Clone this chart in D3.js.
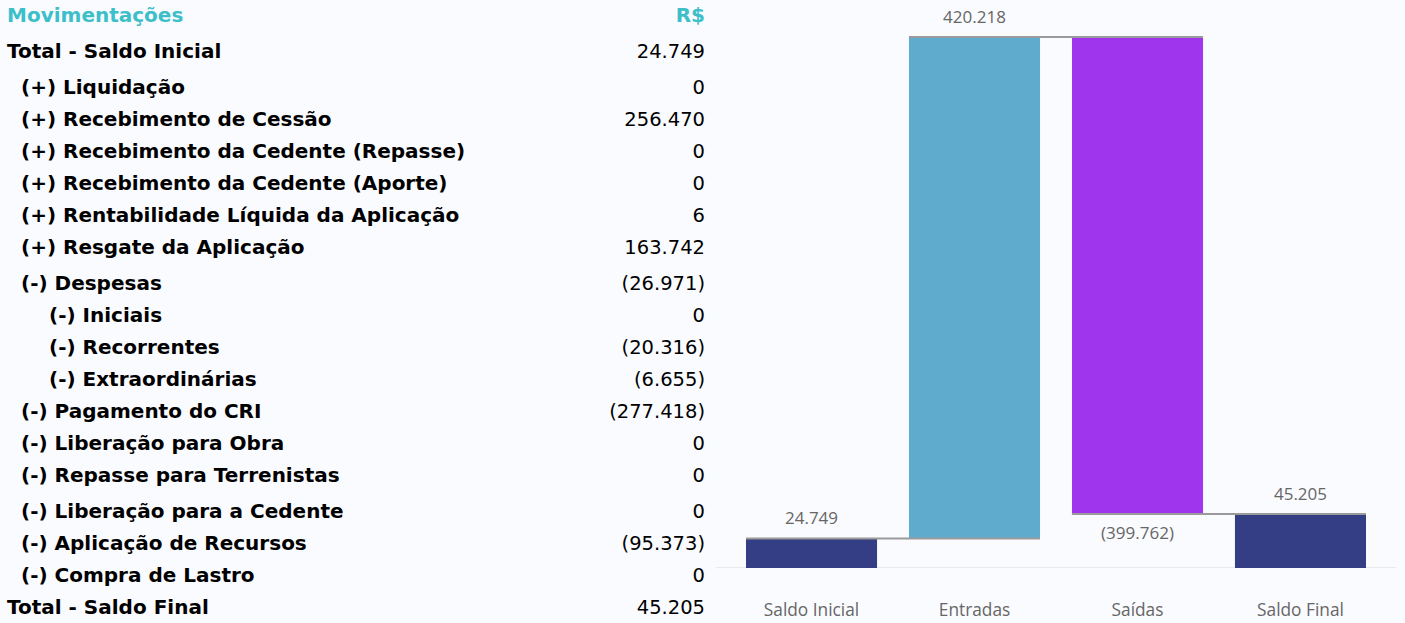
<!DOCTYPE html>
<html lang="pt">
<head>
<meta charset="UTF-8" />
<script src="https://d3js.org/d3.v7.min.js"></script>
<style>
  body { margin:0; background:#fafbfe; }
  svg { display:block; }
</style>
</head>
<body>
<svg width="1405" height="623"></svg>
<script>
// ---- table data ----
var rowLabels = [
  "Total - Saldo Inicial",
  "(+) Liquidação",
  "(+) Recebimento de Cessão",
  "(+) Recebimento da Cedente (Repasse)",
  "(+) Recebimento da Cedente (Aporte)",
  "(+) Rentabilidade Líquida da Aplicação",
  "(+) Resgate da Aplicação",
  "(-) Despesas",
  "(-) Iniciais",
  "(-) Recorrentes",
  "(-) Extraordinárias",
  "(-) Pagamento do CRI",
  "(-) Liberação para Obra",
  "(-) Repasse para Terrenistas",
  "(-) Liberação para a Cedente",
  "(-) Aplicação de Recursos",
  "(-) Compra de Lastro",
  "Total - Saldo Final"
];
var rowValues = [24749, 0, 256470, 0, 0, 6, 163742, -26971, 0, -20316, -6655,
                 -277418, 0, 0, 0, -95373, 0, 45205];
var rowLevels = [0, 1, 1, 1, 1, 1, 1, 1, 2, 2, 2, 1, 1, 1, 1, 1, 1, 0];

// ---- chart data ----
var categories = ["Saldo Inicial", "Entradas", "Saídas", "Saldo Final"];
var stepValues = [24749, 420218, -399762, 45205];
var stepKinds = ["total", "up", "down", "total"];

// layout
var rowGaps = [36, 36, 32, 32, 32, 32, 32, 36, 32, 32, 32, 32, 32, 32, 36, 32, 32, 32];
var colors = { total: "#343e84", up: "#5eabcd", down: "#a035ee" };

var fmt = function(v) {
  var s = d3.format(",")(Math.abs(v)).replace(/,/g, ".");
  return v < 0 ? "(" + s + ")" : s;
};

var svg = d3.select("svg");

//////////////// table
var headerY = 15;
svg.append("text").attr("x", 7).attr("y", headerY).attr("dy", "0.35em")
  .attr("font-family", "DejaVu Sans").attr("font-weight", "bold")
  .attr("font-size", 20).attr("fill", "#3dbfca").text("Movimentações");
svg.append("text").attr("x", 705).attr("y", headerY).attr("dy", "0.35em")
  .attr("text-anchor", "end")
  .attr("font-family", "DejaVu Sans").attr("font-weight", "bold")
  .attr("font-size", 20).attr("fill", "#3dbfca").text("R$");

var rowY = [];
var acc = headerY;
rowGaps.forEach(function(g) { acc += g; rowY.push(acc); });

var indent = [7, 21, 49];
var rows = svg.append("g").selectAll("g")
  .data(rowLabels)
  .enter().append("g");

rows.append("text")
  .attr("x", function(d, i) { return indent[rowLevels[i]]; })
  .attr("y", function(d, i) { return rowY[i]; })
  .attr("dy", "0.35em")
  .attr("font-family", "DejaVu Sans").attr("font-weight", "bold")
  .attr("font-size", 20).attr("fill", "#000")
  .text(function(d) { return d; });

rows.append("text")
  .attr("x", 705)
  .attr("y", function(d, i) { return rowY[i]; })
  .attr("dy", "0.35em")
  .attr("text-anchor", "end")
  .attr("font-family", "DejaVu Sans")
  .attr("font-size", 19.5).attr("fill", "#000")
  .text(function(d, i) { return fmt(rowValues[i]); });

//////////////// waterfall
var bars = [];
var running = 0;
stepValues.forEach(function(v, i) {
  var start, end;
  if (stepKinds[i] == "total") { start = 0; end = v; running = v; }
  else { start = running; end = running + v; running = end; }
  bars.push({ cat: categories[i], v: v, kind: stepKinds[i], start: start, end: end });
});

var x = d3.scaleBand().domain(categories)
  .range([716, 1396]).paddingInner(0.196).paddingOuter(0.184);
var y = d3.scaleLinear()
  .domain([0, d3.max(bars, function(d) { return Math.max(d.start, d.end); })])
  .range([568, 37]);

svg.append("line").attr("x1", 716).attr("x2", 1396)
  .attr("y1", y(0) - 0.5).attr("y2", y(0) - 0.5)
  .attr("stroke", "#e9eaee").attr("stroke-width", 1);

svg.append("g").selectAll("rect")
  .data(bars)
  .enter().append("rect")
  .attr("x", function(d) { return x(d.cat); })
  .attr("y", function(d) { return y(Math.max(d.start, d.end)); })
  .attr("width", x.bandwidth())
  .attr("height", function(d) { return Math.abs(y(d.start) - y(d.end)); })
  .attr("fill", function(d) { return colors[d.kind]; });

// connectors
svg.append("g").selectAll("line")
  .data(bars.slice(0, bars.length - 1))
  .enter().append("line")
  .attr("x1", function(d) { return x(d.cat); })
  .attr("x2", function(d, i) { return x(bars[i + 1].cat) + x.bandwidth(); })
  .attr("y1", function(d) { return y(d.end); })
  .attr("y2", function(d) { return y(d.end); })
  .attr("stroke", "#9a9a9a").attr("stroke-width", 2);

// value labels
svg.append("g").selectAll("text")
  .data(bars)
  .enter().append("text")
  .attr("x", function(d) { return x(d.cat) + x.bandwidth() / 2; })
  .attr("y", function(d) {
    return d.v < 0 ? y(d.end) + 19 : y(d.end) - 20;
  })
  .attr("dy", "0.35em")
  .attr("text-anchor", "middle")
  .attr("font-family", "Open Sans").attr("font-size", 17)
  .attr("fill", "#666666")
  .text(function(d) { return fmt(d.v); });

// category axis labels
svg.append("g").selectAll("text")
  .data(categories)
  .enter().append("text")
  .attr("x", function(d) { return x(d) + x.bandwidth() / 2; })
  .attr("y", 610)
  .attr("dy", "0.35em")
  .attr("text-anchor", "middle")
  .attr("font-family", "Open Sans").attr("font-size", 17.3)
  .attr("fill", "#666666")
  .text(function(d) { return d; });
</script>
</body>
</html>
